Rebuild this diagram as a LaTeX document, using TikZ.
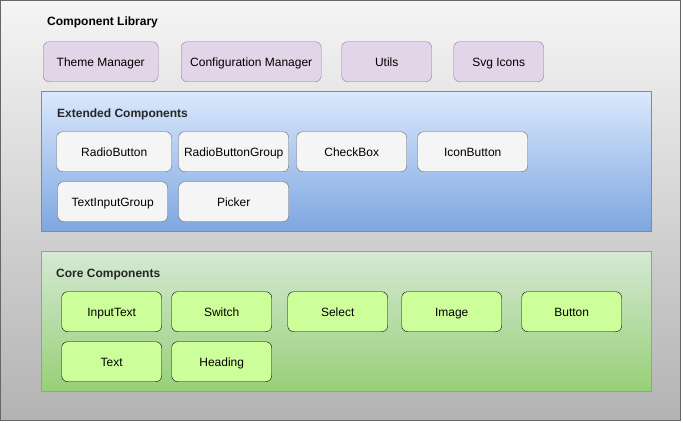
\documentclass[tikz,border=0pt]{standalone}
\usepackage{fontspec}
\setmainfont{Liberation Sans}
\usepackage{xcolor}

\definecolor{outertop}{HTML}{F5F5F5}
\definecolor{outerbot}{HTML}{B3B3B3}
\definecolor{outerline}{HTML}{666666}
\definecolor{libfill}{HTML}{E1D5E7}
\definecolor{libline}{HTML}{9673A6}
\definecolor{exttop}{HTML}{DAE8FC}
\definecolor{extbot}{HTML}{7EA6E0}
\definecolor{extline}{HTML}{6C8EBF}
\definecolor{extfill}{HTML}{F5F5F5}
\definecolor{coretop}{HTML}{D5E8D4}
\definecolor{corebot}{HTML}{97D077}
\definecolor{coreline}{HTML}{82B366}
\definecolor{corefill}{HTML}{CCFF99}

\tikzset{
  comp/.style={rounded corners=6pt, minimum height=40pt, inner sep=0pt,
    text height=10.4pt, text depth=0pt,
    anchor=north west, font=\fontsize{12}{14}\selectfont},
  libbox/.style={comp, draw=libline, fill=libfill, minimum width=#1},
  extbox/.style={comp, draw=outerline, fill=extfill, minimum width=#1},
  corebox/.style={comp, draw=black, fill=corefill, minimum width=#1},
  grouptitle/.style={anchor=base west, inner sep=0pt, text=black!85,
    font=\fontsize{12}{14}\selectfont\bfseries}
}

\begin{document}
\begin{tikzpicture}[x=1pt,y=-1pt]
\useasboundingbox (0,0) rectangle (683,423);

% library frame
\draw[outerline, top color=outertop, bottom color=outerbot] (0.5,0.5) rectangle (680.5,420.5);
\node[grouptitle, text=black] (libtitle) at (47,25) {Component Library};
\foreach \nm/\x/\w/\txt in {theme/43/115/Theme Manager, config/181/140/Configuration Manager,
                            utils/341.5/90/Utils, svgicons/453.5/90/Svg Icons}
{
    \node[libbox=\w] (\nm) at (\x,41.5) {\txt};
}

% extended components
\draw[extline, top color=exttop, bottom color=extbot] (41.5,91.5) rectangle (651.5,231.5);
\node[grouptitle] (exttitle) at (57,117) {Extended Components};
\foreach \nm/\x/\y/\w/\txt in {radio/56.5/131.5/115/RadioButton, radiogroup/178.5/131.5/110/RadioButtonGroup,
                               checkbox/296.5/131.5/110/CheckBox, iconbtn/417.5/131.5/110/IconButton,
                               textinput/57.5/181.5/110/TextInputGroup, picker/178.5/181.5/110/Picker}
{
    \node[extbox=\w] (\nm) at (\x,\y) {\txt};
}

% core components
\draw[coreline, top color=coretop, bottom color=corebot] (41.5,251.5) rectangle (651.5,391.5);
\node[grouptitle] (coretitle) at (56,277) {Core Components};
\foreach \nm/\x/\y/\txt in {inputtext/61.5/291.5/InputText, switch/171.5/291.5/Switch,
                            select/287.5/291.5/Select, image/401.5/291.5/Image,
                            button/521.5/291.5/Button, text/61.5/341.5/Text,
                            heading/171.5/341.5/Heading}
{
    \node[corebox=100pt] (\nm) at (\x,\y) {\txt};
}
\end{tikzpicture}
\end{document}
